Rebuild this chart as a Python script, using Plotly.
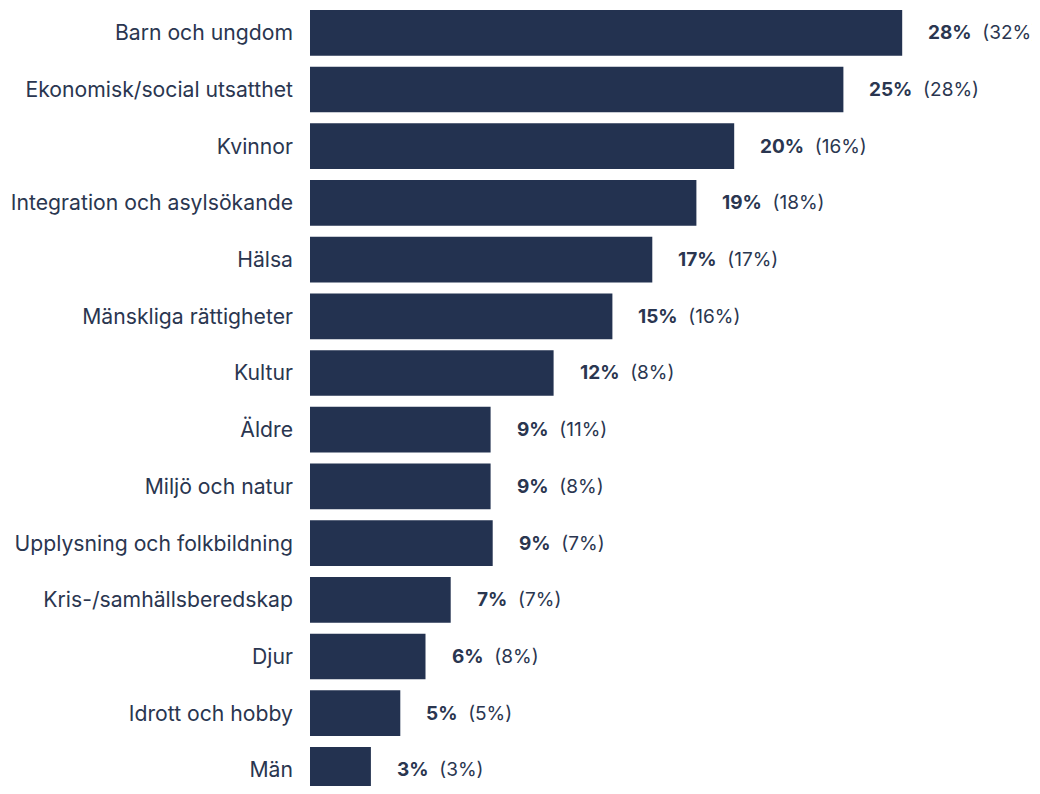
import plotly.graph_objects as go

categories = ["Barn och ungdom", "Ekonomisk/social utsatthet", "Kvinnor",
              "Integration och asylsökande", "Hälsa", "Mänskliga rättigheter",
              "Kultur", "Äldre", "Miljö och natur", "Upplysning och folkbildning",
              "Kris-/samhällsberedskap", "Djur", "Idrott och hobby", "Män"]
bar_values = [28.2, 25.4, 20.2, 18.4, 16.3, 14.4, 11.6, 8.6, 8.6, 8.7, 6.7, 5.5, 4.3, 2.9]
labels_current = ["28%", "25%", "20%", "19%", "17%", "15%", "12%", "9%", "9%", "9%", "7%", "6%", "5%", "3%"]
labels_previous = ["(32%)", "(28%)", "(16%)", "(18%)", "(17%)", "(16%)", "(8%)", "(11%)",
                   "(8%)", "(7%)", "(7%)", "(8%)", "(5%)", "(3%)"]

BAR = "#233250"
TXT = "#2a3650"
FONT = "Inter"

fig = go.Figure(go.Bar(
    x=bar_values, y=categories, orientation="h",
    marker=dict(color=BAR, line=dict(width=0)),
    width=0.806, hoverinfo="skip",
))

for cat, v, cur, prev in zip(categories, bar_values, labels_current, labels_previous):
    fig.add_annotation(
        x=v, y=cat, xref="x", yref="y", xanchor="left", yanchor="middle",
        xshift=24, showarrow=False,
        text=f"<b>{cur}</b>&nbsp;&nbsp;{prev}",
        font=dict(family=FONT, size=19, color=TXT),
    )

fig.update_layout(
    width=1032, height=778,
    margin=dict(l=302, r=0, t=0, b=0),
    paper_bgcolor="white", plot_bgcolor="white",
    showlegend=False,
    font=dict(family=FONT, size=20, color=TXT),
    xaxis=dict(range=[0, 730 / 21], visible=False, fixedrange=True),
    yaxis=dict(range=[13.284, -0.437], showgrid=False, zeroline=False, showline=False,
               ticks="", ticklabelstandoff=16,
               tickfont=dict(family=FONT, size=21.2, color=TXT)),
)

fig.write_html("out.html")
